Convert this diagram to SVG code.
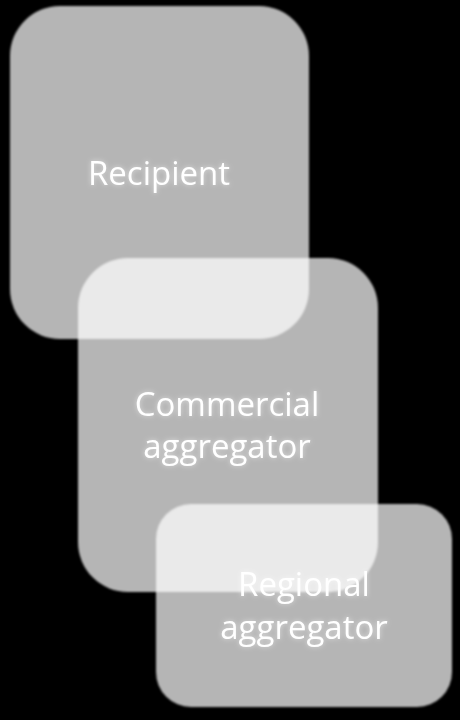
<svg xmlns="http://www.w3.org/2000/svg" width="460" height="720" viewBox="0 0 460 720">
<defs>
<filter id="soft" x="-10%" y="-10%" width="120%" height="120%">
<feGaussianBlur in="SourceGraphic" stdDeviation="1.2"/>
</filter>
<filter id="glow" x="-20%" y="-40%" width="140%" height="180%">
<feGaussianBlur in="SourceAlpha" stdDeviation="2.5" result="b"/>
<feFlood flood-color="#ffffff" flood-opacity="0.55"/>
<feComposite in2="b" operator="in" result="g"/>
<feMerge><feMergeNode in="g"/><feMergeNode in="SourceGraphic"/></feMerge>
</filter>
</defs>
<style>
.box{fill:#ffffff;fill-opacity:0.71;filter:url(#soft)}
.lbl{font-family:"Open Sans","DejaVu Sans",sans-serif;font-size:33px;fill:#ffffff;text-anchor:middle;filter:url(#glow)}
</style>
<rect width="460" height="720" fill="#000000"/>
<g id="connectors"/>
<g id="recipient">
<rect class="box" x="10" y="6" width="299" height="333" rx="50" ry="50"/>
<text class="lbl" x="159" y="185">Recipient</text>
</g>
<g id="commercial">
<rect class="box" x="78" y="258" width="300" height="334" rx="50" ry="50"/>
<text class="lbl" x="227" y="416">Commercial</text>
<text class="lbl" x="227" y="458">aggregator</text>
</g>
<g id="regional">
<rect class="box" x="156" y="504" width="296" height="203" rx="35" ry="35"/>
<text class="lbl" x="304" y="596">Regional</text>
<text class="lbl" x="304" y="639">aggregator</text>
</g>
</svg>
